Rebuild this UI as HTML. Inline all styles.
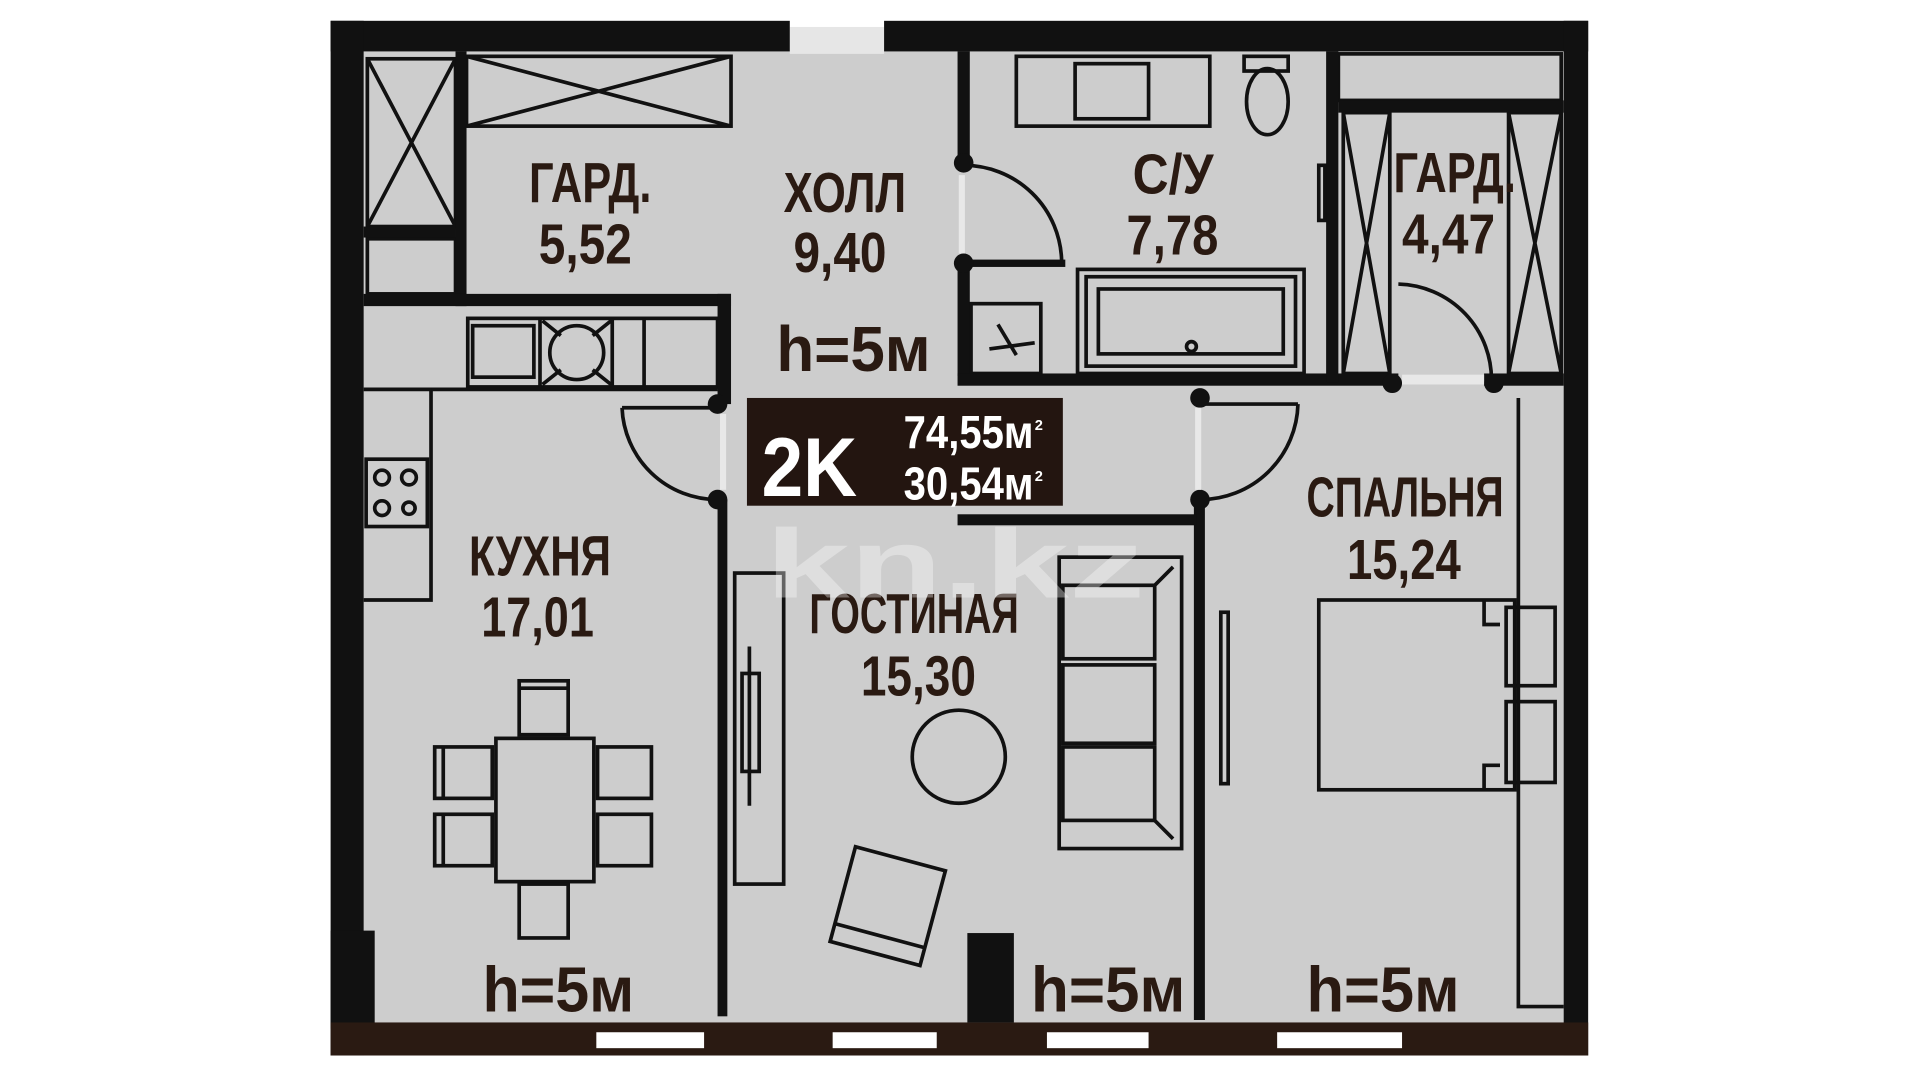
<!DOCTYPE html>
<html><head><meta charset="utf-8"><style>
html,body{margin:0;padding:0;background:#fff;width:1920px;height:1080px;overflow:hidden}
svg{display:block}
text{font-family:"Liberation Sans",sans-serif;font-weight:bold;fill:#2a1a12}
</style></head><body>
<svg width="1920" height="1080" viewBox="0 0 1568 882" preserveAspectRatio="none" xmlns="http://www.w3.org/2000/svg">
<rect x="0" y="0" width="1568" height="882" fill="#fff"/>
<rect x="297" y="42" width="980" height="795" fill="#cdcdcd"/>
<rect x="645" y="22" width="77" height="22" fill="#e6e6e6"/>
<rect x="270" y="17" width="375" height="25" fill="#111"/>
<rect x="722" y="17" width="575" height="25" fill="#111"/>
<rect x="270" y="17" width="27" height="845" fill="#111"/>
<rect x="270" y="760" width="36" height="80" fill="#111"/>
<rect x="1277" y="17" width="20" height="845" fill="#111"/>
<rect x="270" y="835" width="1027" height="27" fill="#2a1a12"/>
<rect x="487" y="843" width="88" height="13" fill="#fff"/>
<rect x="680" y="843" width="85" height="13" fill="#fff"/>
<rect x="855" y="843" width="83" height="13" fill="#fff"/>
<rect x="1043" y="843" width="102" height="13" fill="#fff"/>

<g fill="none" stroke="#111" stroke-width="3">
<rect x="300" y="48" width="72" height="137"/>
<path d="M300 48 L372 185 M372 48 L300 185"/>
<rect x="381" y="46" width="216" height="57"/>
<path d="M381 46 L597 103 M597 46 L381 103"/>
<rect x="300" y="195" width="72" height="45"/>
<rect x="382" y="260" width="204" height="56"/>
<rect x="386" y="266" width="50" height="42"/>
<path d="M441 260 V316 M500 260 V316 M526 260 V316"/>
<circle cx="471" cy="288" r="22"/>
<path d="M443 262 L458 274 M499 262 L484 274 M443 314 L458 302 M499 314 L484 302"/>
<path d="M297 318 H352 V490 H297"/>
<path d="M352 318 H586"/>
<rect x="299" y="375" width="50" height="55"/>
<circle cx="312" cy="390" r="6"/><circle cx="334" cy="390" r="6"/>
<circle cx="312" cy="415" r="6"/><circle cx="334" cy="415" r="5"/>
<path d="M508 333 H586 M508 333 A78 78 0 0 0 586 408"/>
<rect x="405" y="603" width="80" height="117"/>
<rect x="424" y="556" width="40" height="44"/><path d="M424 562 H464"/>
<rect x="424" y="722" width="40" height="44"/>
<rect x="355" y="610" width="47" height="42"/><path d="M362 610 V652"/>
<rect x="355" y="665" width="47" height="42"/><path d="M362 665 V707"/>
<rect x="488" y="610" width="44" height="42"/>
<rect x="488" y="665" width="44" height="42"/>
<rect x="600" y="468" width="40" height="254"/>
<rect x="606" y="550" width="14" height="80"/>
<path d="M612 528 V658"/>
<circle cx="783" cy="618" r="38"/>
<g transform="rotate(15 725 740)"><rect x="687" y="700" width="76" height="80"/><path d="M687 765 H763"/></g>
<rect x="865" y="455" width="100" height="238"/>
<rect x="868" y="478" width="75" height="60"/>
<rect x="868" y="543" width="75" height="64"/>
<rect x="868" y="610" width="75" height="60"/>
<path d="M943 478 L958 463 M943 670 L958 685"/>
<rect x="997" y="500" width="6" height="140"/>
<rect x="1077" y="490" width="160" height="155"/>
<rect x="1230" y="496" width="40" height="64"/>
<rect x="1230" y="573" width="40" height="66"/>
<path d="M1212 490 L1212 510 L1225 510 M1212 645 L1212 625 L1225 625"/>
<path d="M1240 325 V822 H1277"/>
<rect x="830" y="46" width="158" height="57"/>
<rect x="878" y="52" width="60" height="45"/>
<ellipse cx="1035" cy="83" rx="17" ry="27"/>
<rect x="1016" y="46" width="36" height="12"/>
<rect x="880" y="220" width="185" height="85"/>
<rect x="887" y="226" width="171" height="73"/>
<rect x="897" y="236" width="151" height="53"/>
<circle cx="973" cy="283" r="4"/>
<rect x="793" y="248" width="57" height="57"/>
<path d="M815 265 L830 290 M808 285 L845 280"/>
<path d="M787 135 A80 80 0 0 1 867 213"/>
<rect x="1093" y="44" width="182" height="38"/>
<rect x="1097" y="92" width="38" height="213"/>
<path d="M1097 92 L1135 305 M1135 92 L1097 305"/>
<rect x="1232" y="92" width="43" height="213"/>
<path d="M1232 92 L1275 305 M1275 92 L1232 305"/>
<path d="M1142 232 A78 78 0 0 1 1218 312"/>
<path d="M980 330 H1060 M1060 330 A80 80 0 0 1 980 408"/>
<rect x="1077" y="135" width="5" height="45"/>
</g>

<g fill="#111">
<rect x="372" y="42" width="9" height="208"/>
<rect x="297" y="185" width="75" height="9"/>
<rect x="297" y="240" width="300" height="10"/>
<rect x="586" y="240" width="11" height="90"/>
<rect x="586" y="408" width="8" height="422"/>
<rect x="782" y="42" width="10" height="92"/>
<rect x="782" y="215" width="10" height="92"/>
<rect x="782" y="212" width="88" height="6"/>
<rect x="782" y="305" width="360" height="10"/>
<rect x="1083" y="42" width="10" height="270"/>
<rect x="1093" y="82" width="184" height="10"/>
<rect x="1212" y="305" width="65" height="10"/>
<rect x="975" y="408" width="9" height="425"/>
<rect x="782" y="420" width="195" height="9"/>
<rect x="790" y="762" width="38" height="73"/>
<circle cx="586" cy="330" r="8"/><circle cx="586" cy="408" r="8"/>
<circle cx="787" cy="133" r="8"/><circle cx="787" cy="215" r="8"/>
<circle cx="980" cy="325" r="8"/><circle cx="980" cy="408" r="8"/>
<circle cx="1137" cy="313" r="8"/><circle cx="1220" cy="313" r="8"/>
</g>
<rect x="1145" y="306" width="67" height="8" fill="#e8e8e8"/>
<rect x="588" y="338" width="5" height="62" fill="#e8e8e8"/>
<rect x="976" y="333" width="5" height="67" fill="#e8e8e8"/>
<rect x="783" y="143" width="5" height="64" fill="#e8e8e8"/>

<rect x="610" y="325" width="258" height="88" fill="#231510"/>
<text x="622" y="405" font-size="68" textLength="78" lengthAdjust="spacingAndGlyphs" style="fill:#fff">2K</text>
<text x="738" y="366" font-size="38" textLength="106" lengthAdjust="spacingAndGlyphs" style="fill:#fff">74,55м</text>
<text x="845" y="351" font-size="12" style="fill:#fff">2</text>
<text x="738" y="408" font-size="38" textLength="106" lengthAdjust="spacingAndGlyphs" style="fill:#fff">30,54м</text>
<text x="845" y="393" font-size="12" style="fill:#fff">2</text>

<g font-size="46">
<text x="432" y="165" textLength="100" lengthAdjust="spacingAndGlyphs">ГАРД.</text>
<text x="440" y="215" textLength="76" lengthAdjust="spacingAndGlyphs">5,52</text>
<text x="640" y="173" textLength="100" lengthAdjust="spacingAndGlyphs">ХОЛЛ</text>
<text x="648" y="222" textLength="76" lengthAdjust="spacingAndGlyphs">9,40</text>
<text x="925" y="158" textLength="66" lengthAdjust="spacingAndGlyphs">С/У</text>
<text x="920" y="208" textLength="75" lengthAdjust="spacingAndGlyphs">7,78</text>
<text x="1138" y="157" textLength="100" lengthAdjust="spacingAndGlyphs">ГАРД.</text>
<text x="1145" y="207" textLength="76" lengthAdjust="spacingAndGlyphs">4,47</text>
<text x="1067" y="422" textLength="161" lengthAdjust="spacingAndGlyphs">СПАЛЬНЯ</text>
<text x="1100" y="473" textLength="93" lengthAdjust="spacingAndGlyphs">15,24</text>
<text x="383" y="470" textLength="116" lengthAdjust="spacingAndGlyphs">КУХНЯ</text>
<text x="393" y="520" textLength="92" lengthAdjust="spacingAndGlyphs">17,01</text>
<text x="661" y="517" textLength="171" lengthAdjust="spacingAndGlyphs">ГОСТИНАЯ</text>
<text x="703" y="568" textLength="94" lengthAdjust="spacingAndGlyphs">15,30</text>
</g>
<g font-size="52">
<text x="634" y="303" textLength="126" lengthAdjust="spacingAndGlyphs">h=5м</text>
<text x="394" y="826" textLength="124" lengthAdjust="spacingAndGlyphs">h=5м</text>
<text x="842" y="826" textLength="126" lengthAdjust="spacingAndGlyphs">h=5м</text>
<text x="1067" y="826" textLength="125" lengthAdjust="spacingAndGlyphs">h=5м</text>
</g>
<text x="625" y="488" font-size="80" textLength="310" lengthAdjust="spacingAndGlyphs" style="fill:#fff;fill-opacity:0.35">kn.kz</text>
</svg>
</body></html>
